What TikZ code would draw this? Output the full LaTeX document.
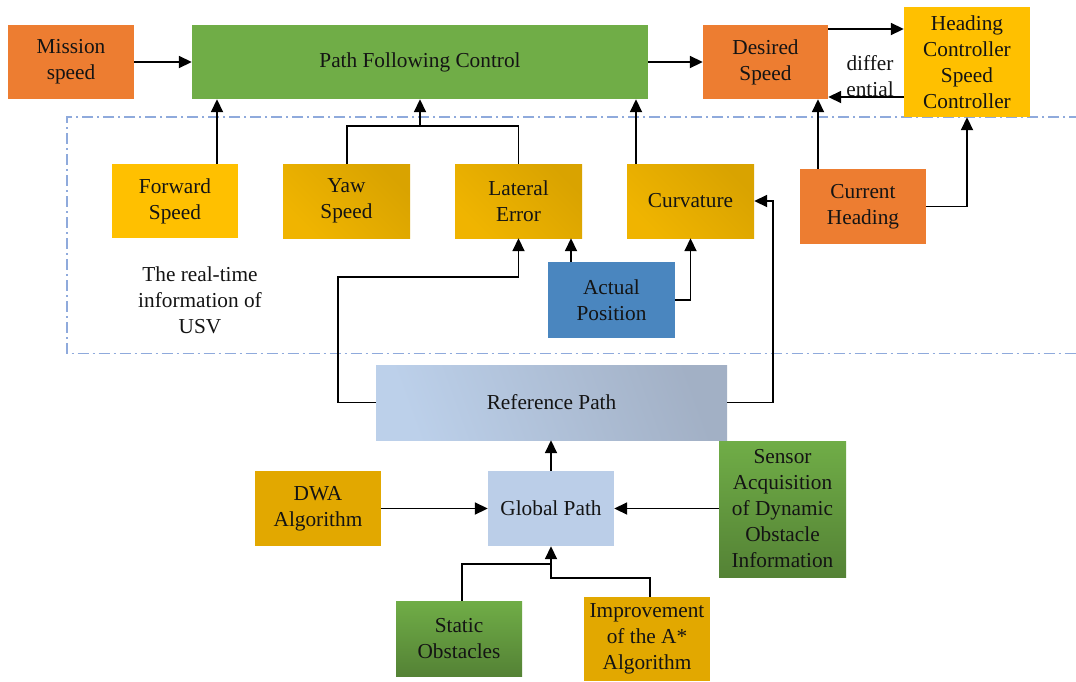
\documentclass[tikz,border=0pt]{standalone}
\usepackage{fontspec}
\setmainfont{Liberation Serif}
\usetikzlibrary{arrows.meta,calc}
\definecolor{corange}{HTML}{ED7D31}
\definecolor{cgreen}{HTML}{70AD47}
\definecolor{cdkgreen}{HTML}{548235}
\definecolor{cyellow}{HTML}{FFC000}
\definecolor{cgold}{HTML}{D9A300}
\definecolor{cgoldm}{HTML}{E2A800}
\definecolor{cblue}{HTML}{4A86BF}
\definecolor{cltblue}{HTML}{BCD0EA}
\definecolor{cgrblue}{HTML}{A2B0C5}
\definecolor{cdash}{HTML}{8FAADC}
\definecolor{ctext}{HTML}{141414}
\tikzset{
  box/.style={inner sep=2pt, align=center, text=ctext,
    font=\fontsize{21.3}{26}\selectfont},
  orangebox/.style={box, fill=corange},
  greenbox/.style={box, fill=cgreen},
  yellowbox/.style={box, fill=cyellow},
  goldbox/.style={box, left color=cyellow!60!cgold, right color=cgold, shading angle=135},
  dgoldbox/.style={box, fill=cgoldm},
  bluebox/.style={box, fill=cblue},
  lbluebox/.style={box, fill=cltblue!95!cgrblue},
  refbox/.style={box, left color=cltblue, right color=cgrblue, shading angle=110},
  ggreenbox/.style={box, top color=cgreen, bottom color=cdkgreen},
  arr/.style={line width=1.8pt, -{Triangle[length=13pt,width=12pt]}},
  ln/.style={line width=1.8pt},
  dashdotline/.style={draw=cdash, line width=1.5pt, dash pattern=on 11pt off 4pt on 2pt off 4pt},
  plain/.style={align=center, text=ctext, font=\fontsize{21.3}{26}\selectfont}
}
\begin{document}
\begin{tikzpicture}[x=1pt,y=-1pt]
\useasboundingbox[fill=white] (0,0) rectangle (1076,681);
% dash-dot region
\draw[dashdotline] (1080,117) -- (67,117) -- (67,353.5) -- (1080,353.5);

% top row
\node[orangebox, minimum width=126, minimum height=74] (mission) at (71,62) {Mission\\speed};
\node[greenbox, minimum width=456, minimum height=74] (pfc) at (420,62) {Path Following Control};
\node[orangebox, minimum width=125, minimum height=74] (desired) at (765.5,62) {Desired\\Speed};
\node[yellowbox, minimum width=126, minimum height=110] (hsc) at (967,62) {Heading\\Controller\\Speed\\Controller};

% real-time info row
\node[yellowbox, minimum width=126, minimum height=74] (forward) at (175,201) {Forward\\Speed};
\node[goldbox, minimum width=127, minimum height=74] (yaw) at (346.5,201) {Yaw\\Speed};
\node[goldbox, minimum width=127, minimum height=74] (lateral) at (518.5,201) {Lateral\\Error};
\node[goldbox, minimum width=127, minimum height=74] (curv) at (690.5,201) {Curvature};
\node[orangebox, minimum width=126, minimum height=75] (heading) at (863,206.5) {Current\\Heading};
\node[bluebox, minimum width=127, minimum height=76] (actual) at (611.5,300) {Actual\\Position};
\node[plain] (info) at (200,300) {The real-time\\information of\\USV};

% lower part
\node[refbox, minimum width=351, minimum height=75] (ref) at (551.5,402.5) {Reference Path};
\node[lbluebox, minimum width=126, minimum height=75] (global) at (551,508.5) {Global Path};
\node[dgoldbox, minimum width=126, minimum height=75] (dwa) at (318,508.5) {DWA\\Algorithm};
\node[ggreenbox, minimum width=127, minimum height=136] (sensor) at (782.5,509) {Sensor\\Acquisition\\of Dynamic\\Obstacle\\Information};
\node[ggreenbox, minimum width=126, minimum height=75] (static) at (459,638.5) {Static\\Obstacles};
\node[dgoldbox, minimum width=126, minimum height=84] (impr) at (647,639) {Improvement\\of the A*\\Algorithm};

\node[plain] (diff) at (870,76) {differ\\ential};

% connectors
\draw[arr] (mission.east) -- (pfc.west);
\draw[arr] (pfc.east) -- (desired.west);
\draw[arr] (desired.east |- 0,29) -- (hsc.west |- 0,29);
\draw[arr] (hsc.west |- 0,97) -- (desired.east |- 0,97);
\draw[arr] (818,0 |- heading.north) -- (818,0 |- desired.south);
\draw[arr] (heading.east) -| (hsc.south);

\draw[arr] (217,0 |- forward.north) -- (217,0 |- pfc.south);
\coordinate (join) at (420,126);
\draw[ln] (347,0 |- yaw.north) |- (join) -| (lateral.north);
\draw[arr] (join) -- (join |- pfc.south);
\draw[arr] (636,0 |- curv.north) -- (636,0 |- pfc.south);

\draw[arr] (ref.west) -| (338,277) -| (lateral.south);
\draw[arr] (571,0 |- actual.north) -- (571,0 |- lateral.south);
\draw[arr] (actual.east) -| (curv.south);
\draw[arr] (ref.east) -| (773,0 |- curv.east) -- (curv.east);

\draw[arr] (global.north) -- (global.north |- ref.south);
\draw[arr] (dwa.east) -- (global.west);
\draw[arr] (sensor.west |- global.east) -- (global.east);
\coordinate (gjoin) at (551,578);
\draw[ln] (462,0 |- static.north) |- (551,564);
\draw[arr] (650,0 |- impr.north) |- (gjoin) -- (global.south);
\end{tikzpicture}
\end{document}
